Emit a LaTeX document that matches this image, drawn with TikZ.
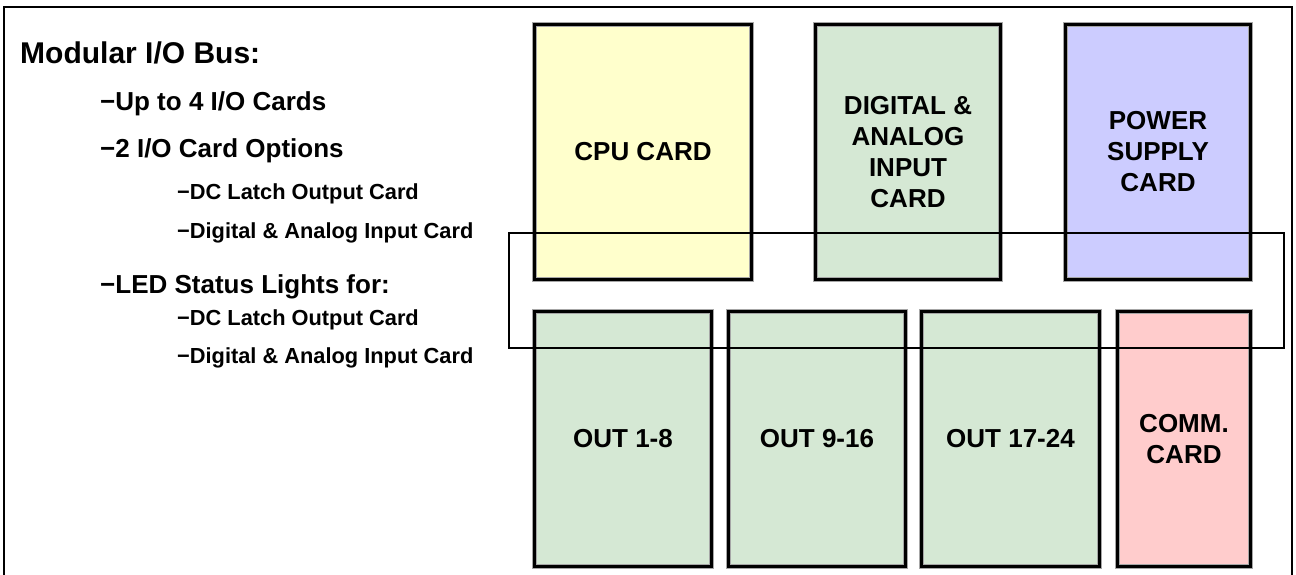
\documentclass[tikz,border=0pt]{standalone}
\usepackage{fontspec}
\setmainfont{Liberation Sans}

\definecolor{cpuyellow}{HTML}{FFFFCC}
\definecolor{cardgreen}{HTML}{D5E8D4}
\definecolor{psublue}{HTML}{CCCCFF}
\definecolor{commred}{HTML}{FFCCCC}

\begin{document}
\begin{tikzpicture}[x=1pt, y=-1pt,
    card/.style={draw=gray!70, double=black, double distance=3pt, line width=1.2pt,
        inner sep=0pt, align=center, minimum height=254.6pt,
        font=\fontsize{26}{31}\selectfont\bfseries},
    item/.style={anchor=base west, inner sep=0pt, font=\fontsize{26}{30}\selectfont\bfseries},
    subitem/.style={item, font=\fontsize{21.8}{26}\selectfont\bfseries}]
    % 画布与外框（下边被裁掉）
    \useasboundingbox (0,0) rectangle (1296,574);
    \clip (0,0) rectangle (1296,574);
    \draw[line width=2pt] (4,590) -- (4,7) -- (1292,7) -- (1292,590);

    % 左侧说明文字
    \node[item, font=\fontsize{30}{35}\selectfont\bfseries] (title) at (20,63) {Modular I/O Bus:};
    \node[item] (upto) at (100,110) {−Up to 4 I/O Cards};
    \node[item] (opts) at (100,157) {−2 I/O Card Options};
    \node[subitem] (optdc) at (177,199) {−DC Latch Output Card};
    \node[subitem] (optin) at (177,238) {−Digital \& Analog Input Card};
    \node[item] (led) at (100,293) {−LED Status Lights for:};
    \node[subitem] (leddc) at (177,325) {−DC Latch Output Card};
    \node[subitem] (ledin) at (177,363) {−Digital \& Analog Input Card};

    % 上排卡片
    \node[card, fill=cpuyellow, minimum width=216.6pt] (cpu) at (643,152) {CPU CARD};
    \node[card, fill=cardgreen, minimum width=184.6pt] (dain) at (908,152) {DIGITAL \&\\ANALOG\\INPUT\\CARD};
    \node[card, fill=psublue, minimum width=184.6pt] (psu) at (1158,152) {POWER\\SUPPLY\\CARD};

    % 下排卡片
    \node[card, fill=cardgreen, minimum width=176.6pt] (out1) at (623,439) {OUT 1-8};
    \node[card, fill=cardgreen, minimum width=176.6pt] (out2) at (817,439) {OUT 9-16};
    \node[card, fill=cardgreen, minimum width=177.6pt] (out3) at (1010.5,439) {OUT 17-24};
    \node[card, fill=commred, minimum width=132.6pt] (comm) at (1184,439) {COMM.\\CARD};

    % 总线框，压在卡片上面
    \coordinate (busnw) at (509,233);
    \coordinate (busse) at (1284,348);
    \draw[line width=2pt] (busnw) rectangle (busse);
\end{tikzpicture}
\end{document}
